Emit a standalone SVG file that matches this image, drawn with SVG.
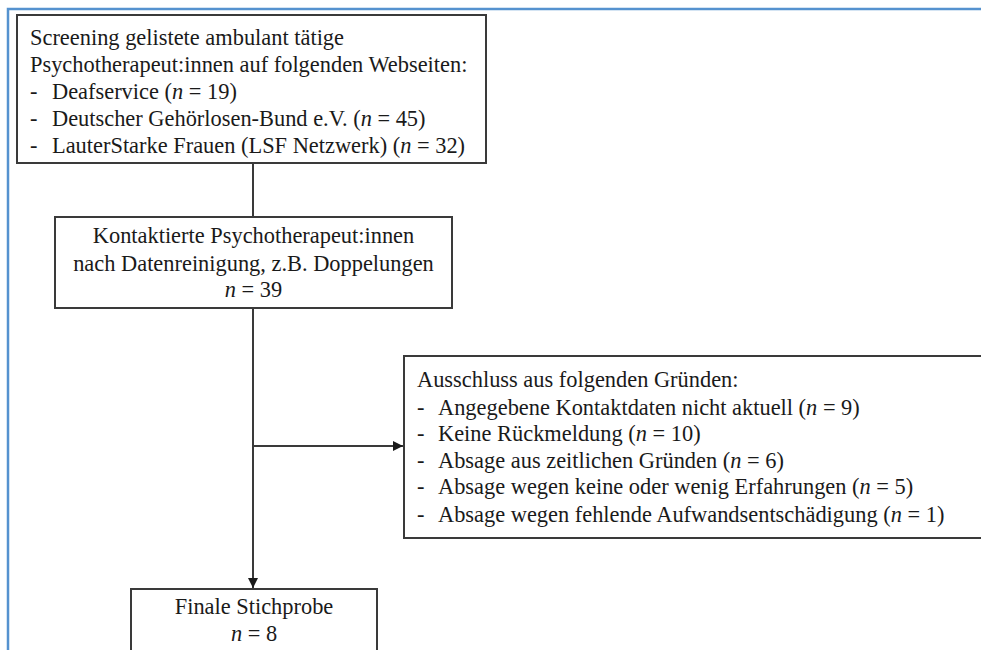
<svg xmlns="http://www.w3.org/2000/svg" width="981" height="650" viewBox="0 0 981 650">
<defs>
<marker id="arr" viewBox="0 0 10 10" refX="10" refY="5" markerWidth="10" markerHeight="10" markerUnits="userSpaceOnUse" orient="auto">
<path d="M0,0 L10,5 L0,10 z" fill="#1a1a1a"/>
</marker>
<style>
.box{fill:#fff;stroke:#3a3a3a;stroke-width:2}
.t{font-family:"Liberation Serif","Times New Roman",serif;font-size:22.4px;fill:#1a1a1a}
.c{text-anchor:middle}
.i{font-style:italic}
.ln{fill:none;stroke:#3a3a3a;stroke-width:2}
</style>
</defs>
<rect width="981" height="650" fill="#fff"/>
<path d="M8,650 V9 H981" fill="none" stroke="#5592cf" stroke-width="2.5"/>
<g id="connectors">
<line class="ln" x1="253" y1="163" x2="253" y2="217"/>
<line class="ln" x1="253" y1="308" x2="253" y2="588" marker-end="url(#arr)"/>
<line class="ln" x1="253" y1="446" x2="403" y2="446" marker-end="url(#arr)"/>
</g>
<g id="screening">
<rect class="box" x="17" y="15" width="469" height="148"/>
<text class="t" x="30" y="45">Screening gelistete ambulant tätige</text>
<text class="t" x="30" y="72">Psychotherapeut:innen auf folgenden Webseiten:</text>
<text class="t" x="30" y="99">-</text>
<text class="t" x="52" y="99">Deafservice (<tspan class="i">n</tspan> = 19)</text>
<text class="t" x="30" y="126">-</text>
<text class="t" x="52" y="126">Deutscher Gehörlosen-Bund e.V. (<tspan class="i">n</tspan> = 45)</text>
<text class="t" x="30" y="153">-</text>
<text class="t" x="52" y="153">LauterStarke Frauen (LSF Netzwerk) (<tspan class="i">n</tspan> = 32)</text>
</g>
<g id="kontaktiert">
<rect class="box" x="55" y="217" width="397" height="91"/>
<text class="t c" x="253.5" y="243">Kontaktierte Psychotherapeut:innen</text>
<text class="t c" x="253.5" y="271">nach Datenreinigung, z.B. Doppelungen</text>
<text class="t c" x="253.5" y="297"><tspan class="i">n</tspan> = 39</text>
</g>
<g id="ausschluss">
<rect class="box" x="404" y="356" width="600" height="182"/>
<text class="t" x="417" y="387">Ausschluss aus folgenden Gründen:</text>
<text class="t" x="417" y="415">-</text>
<text class="t" x="438" y="415">Angegebene Kontaktdaten nicht aktuell (<tspan class="i">n</tspan> = 9)</text>
<text class="t" x="417" y="441">-</text>
<text class="t" x="438" y="441">Keine Rückmeldung (<tspan class="i">n</tspan> = 10)</text>
<text class="t" x="417" y="468">-</text>
<text class="t" x="438" y="468">Absage aus zeitlichen Gründen (<tspan class="i">n</tspan> = 6)</text>
<text class="t" x="417" y="494">-</text>
<text class="t" x="438" y="494">Absage wegen keine oder wenig Erfahrungen (<tspan class="i">n</tspan> = 5)</text>
<text class="t" x="417" y="522">-</text>
<text class="t" x="438" y="522">Absage wegen fehlende Aufwandsentschädigung (<tspan class="i">n</tspan> = 1)</text>
</g>
<g id="final">
<rect class="box" x="131" y="589" width="246" height="70"/>
<text class="t c" x="254" y="614">Finale Stichprobe</text>
<text class="t c" x="254" y="641"><tspan class="i">n</tspan> = 8</text>
</g>
</svg>
